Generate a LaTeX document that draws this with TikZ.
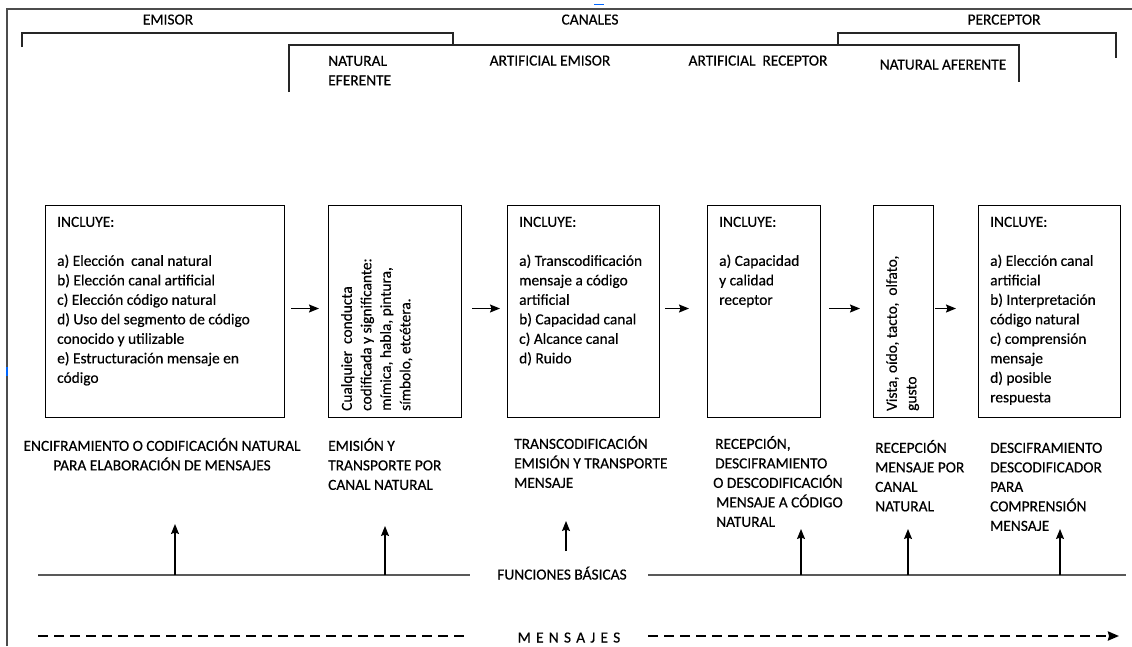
\documentclass[tikz,border=0pt]{standalone}
\usepackage{fontspec}
\setmainfont{Carlito}[FakeBold=0.4]
\usetikzlibrary{arrows.meta}
\newcommand\myfs{\fontsize{15.4}{19.5}\selectfont}
\newcommand\lgap{\hspace{5.2pt}}
\begin{document}
\begin{tikzpicture}[x=1pt,y=-1pt,
  txt/.style={font=\myfs, inner sep=0pt, align=left, anchor=north west},
  ctxt/.style={font=\myfs, inner sep=0pt, anchor=base},
  box/.style={draw=black, line width=1pt, inner sep=0pt, anchor=north west},
  brk/.style={draw=black!85, line width=2.4pt, line cap=butt},
  arr/.style={-{Stealth[length=10pt,width=8pt,inset=1.5pt]}, line width=1.2pt},
  baseline/.style={draw=black!65, line width=1.5pt},
  dashline/.style={draw=black, line width=2.6pt, dash pattern=on 10pt off 6pt}
]
\useasboundingbox (0,0) rectangle (1132,646);
\fill[white] (0,0) rectangle (1132,646);
% frame
\draw[draw=black!70, line width=1.2pt] (7,646) -- (7,9) -- (1132,9);
\draw[draw=blue!60!cyan, line width=1.2pt] (594,4.5) -- (604,4.5);
\draw[draw=blue!60!cyan, line width=1.4pt] (7,367) -- (7,376);

% top titles
\node[ctxt] (temisor) at (168,24.5) {EMISOR};
\node[ctxt] (tcanales) at (590,24.5) {CANALES};
\node[ctxt] (tperceptor) at (1004,24.5) {PERCEPTOR};

% brackets
\coordinate (ea) at (22,47);
\coordinate (eb) at (22,33);
\coordinate (ec) at (453,33);
\coordinate (ed) at (453,45);
\draw[brk] (ea) -- (eb) -- (ec) -- (ed);
\coordinate (ca) at (289,92);
\coordinate (cb) at (289,45);
\coordinate (cc) at (1019,45);
\coordinate (cd) at (1019,82);
\draw[brk] (ca) -- (cb) -- (cc) -- (cd);
\coordinate (pa) at (838,45);
\coordinate (pb) at (838,33);
\coordinate (pc) at (1116,33);
\coordinate (pd) at (1116,58);
\draw[brk] (pa) -- (pb) -- (pc) -- (pd);

% channel labels
\node[txt] (natef) at (328,52) {\strut NATURAL\\EFERENTE};
\node[ctxt] (artem) at (550,65.5) {ARTIFICIAL EMISOR};
\node[ctxt] (artrec) at (758,65.5) {ARTIFICIAL\ \ RECEPTOR};
\node[ctxt] (nataf) at (943,69.5) {NATURAL AFERENTE};

% boxes
\node[box, minimum width=239pt, minimum height=212pt] (b1) at (45,205) {};
\node[box, minimum width=133pt, minimum height=212pt] (b2) at (328,205) {};
\node[box, minimum width=152pt, minimum height=212pt] (b3) at (507,205) {};
\node[box, minimum width=113pt, minimum height=212pt] (b4) at (707,205) {};
\node[box, minimum width=60pt, minimum height=212pt] (b5) at (873,205) {};
\node[box, minimum width=142pt, minimum height=212pt] (b6) at (978,205) {};

% box texts
\node[txt] (t1) at (57,213) {\strut INCLUYE:\\[19.5pt]a) Elección\ \ canal natural\\b) Elección canal artificial\\c) Elección código natural\\d) Uso del segmento de código\\conocido y utilizable\\e) Estructuración mensaje en\\código};
\node[txt, rotate=90] (t2) at (338,411) {\strut Cualquier\ \ conducta\\codificada y significante:\\mímica, habla, pintura,\\símbolo, etcétera.};
\node[txt] (t3) at (519,213) {\strut INCLUYE:\\[19.5pt]a) Transcodificación\\mensaje a código\\artificial\\b) Capacidad canal\\c) Alcance canal\\d) Ruido};
\node[txt] (t4) at (719,213) {\strut INCLUYE:\\[19.5pt]a) Capacidad\\y calidad\\receptor};
\node[txt, rotate=90] (t5) at (883,411) {\strut Vista, oído, tacto,\ \ olfato,\\gusto};
\node[txt] (t6) at (990,213) {\strut INCLUYE:\\[19.5pt]a) Elección canal\\artificial\\b) Interpretación\\código natural\\c) comprensión\\mensaje\\d) posible\\respuesta};

% arrows between boxes
\draw[arr, shorten <=6pt, shorten >=9pt] ([yshift=3pt]b1.east) -- ([yshift=3pt]b2.west);
\draw[arr, shorten <=10pt, shorten >=7pt] ([yshift=3pt]b2.east) -- ([yshift=3pt]b3.west);
\draw[arr, shorten <=5pt, shorten >=18pt] ([yshift=3pt]b3.east) -- ([yshift=3pt]b4.west);
\draw[arr, shorten <=8pt, shorten >=13pt] ([yshift=3pt]b4.east) -- ([yshift=3pt]b5.west);
\draw[arr, shorten <=1pt, shorten >=22pt] ([yshift=3pt]b5.east) -- ([yshift=3pt]b6.west);

% bottom labels
\node[txt, align=center, anchor=north] (l1) at (162,437) {\strut ENCIFRAMIENTO O CODIFICACIÓN NATURAL\\PARA ELABORACIÓN DE MENSAJES};
\node[txt] (l2) at (328,437) {\strut EMISIÓN Y\\TRANSPORTE POR\\CANAL NATURAL};
\node[txt] (l3) at (514,435) {\strut TRANSCODIFICACIÓN\\EMISIÓN Y TRANSPORTE\\MENSAJE};
\node[txt] (l4) at (713,435) {\strut \hspace{2pt}RECEPCIÓN,\\\hspace{2pt}DESCIFRAMIENTO\\O DESCODIFICACIÓN\\\hspace{3pt}MENSAJE A CÓDIGO\\\hspace{3pt}NATURAL};
\node[txt] (l5) at (875,439) {\strut RECEPCIÓN\\MENSAJE POR\\CANAL\\NATURAL};
\node[txt] (l6) at (990,439) {\strut DESCIFRAMIENTO\\DESCODIFICADOR\\PARA\\COMPRENSIÓN\\MENSAJE};

% funciones basicas
\node[ctxt] (fb) at (562,579.5) {FUNCIONES BÁSICAS};
\coordinate (fl1) at (38,575);
\coordinate (fl2) at (470,575);
\coordinate (fr1) at (648,575);
\coordinate (fr2) at (1126,575);
\draw[baseline] (fl1) -- (fl2);
\draw[baseline] (fr1) -- (fr2);
\coordinate (u1) at (175,575); \coordinate (v1) at (175,524);
\coordinate (u2) at (385,575); \coordinate (v2) at (385,526);
\coordinate (u3) at (566,551); \coordinate (v3) at (566,521);
\coordinate (u4) at (801,575); \coordinate (v4) at (801,529);
\coordinate (u5) at (908,575); \coordinate (v5) at (908,529);
\coordinate (u6) at (1060,575); \coordinate (v6) at (1060,529);
\foreach \i in {1,...,6} \draw[arr] (u\i) -- (v\i);

% mensajes
\node[ctxt] (msj) at (569,642.5) {M\lgap E\lgap N\lgap S\lgap A\lgap J\lgap E\lgap S};
\coordinate (ml1) at (38,636);
\coordinate (ml2) at (470,636);
\coordinate (mr1) at (648,636);
\coordinate (mr2) at (1119,636);
\draw[dashline] (ml1) -- (ml2);
\draw[dashline, -{Stealth[length=11pt,width=9pt,inset=1pt]}] (mr1) -- (mr2);
\end{tikzpicture}
\end{document}
